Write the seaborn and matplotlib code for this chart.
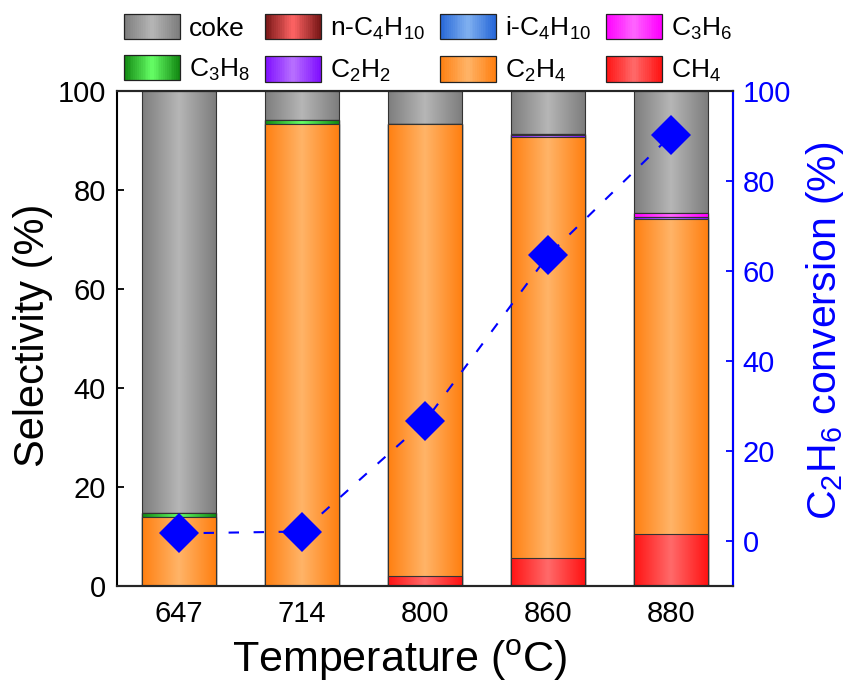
import numpy as np
import pandas as pd
import matplotlib
matplotlib.use("Agg")
import matplotlib.pyplot as plt
import matplotlib.colors as mcolors
from matplotlib.patches import Patch, Rectangle
from matplotlib.legend_handler import HandlerBase
import seaborn as sns

# data
temps = ['647', '714', '800', '860', '880']
ch4 = [0.0, 0.0, 2.1, 5.6, 10.5]
c2h4 = [13.9, 93.3, 91.2, 85.2, 63.6]
c2h2 = [0.0, 0.0, 0.0, 0.3, 0.5]
c3h8 = [0.9, 0.9, 0.0, 0.0, 0.0]
c3h6 = [0.0, 0.0, 0.0, 0.2, 0.7]
ic4h10 = [0.0, 0.0, 0.0, 0.0, 0.0]
nc4h10 = [0.0, 0.0, 0.0, 0.0, 0.0]
conversion = [1.7, 2.1, 26.6, 63.5, 90.2]

# stack from bottom to top; coke fills up to 100 %
layers = [
    ('CH4', r'CH$_4$', ch4, '#ff1414', '#ff6a6a'),
    ('C2H4', r'C$_2$H$_4$', c2h4, '#ff8012', '#ffb468'),
    ('C2H2', r'C$_2$H$_2$', c2h2, '#8010ff', '#b870ff'),
    ('C3H8', r'C$_3$H$_8$', c3h8, '#138a13', '#66ff66'),
    ('C3H6', r'C$_3$H$_6$', c3h6, '#ff00ff', '#ff66ff'),
    ('iC4H10', r'i-C$_4$H$_{10}$', ic4h10, '#2868d8', '#80b0f0'),
    ('nC4H10', r'n-C$_4$H$_{10}$', nc4h10, '#7a1818', '#ff6464'),
]
partial = np.sum([l[2] for l in layers], axis=0)
coke = list(np.round(100 - partial, 1))
layers.append(('coke', 'coke', coke, '#7e7e7e', '#b6b6b6'))


def gradient(edge, center, n=64):
    x = np.linspace(0, 1, n)
    w = 1 - np.abs(2 * x - 1)
    e = np.array(mcolors.to_rgb(edge))
    c = np.array(mcolors.to_rgb(center))
    return (e[None, :] * (1 - w[:, None]) + c[None, :] * w[:, None])


class GradientHandler(HandlerBase):
    def __init__(self, edge, center, n=30):
        super().__init__()
        self.cols = gradient(edge, center, n)

    def create_artists(self, legend, orig_handle, xdescent, ydescent,
                       width, height, fontsize, trans):
        n = len(self.cols)
        arts = []
        for i, col in enumerate(self.cols):
            arts.append(Rectangle((-xdescent + i * width / n, -ydescent),
                                  width / n * 1.3, height, facecolor=col,
                                  edgecolor='none', lw=0, antialiased=False,
                                  transform=trans))
        arts.append(Rectangle((-xdescent, -ydescent), width, height,
                              facecolor='none', edgecolor='#222222', lw=0.9,
                              transform=trans))
        return arts


sns.set_style('ticks')
plt.rcParams['font.family'] = ['Liberation Sans', 'DejaVu Sans']
plt.rcParams['mathtext.fontset'] = 'custom'
plt.rcParams['mathtext.rm'] = 'Liberation Sans'
plt.rcParams['mathtext.it'] = 'Liberation Sans:italic'
plt.rcParams['mathtext.default'] = 'regular'
for key in ['text.color', 'axes.labelcolor', 'xtick.color', 'ytick.color']:
    plt.rcParams[key] = 'black'

fig = plt.figure(figsize=(8.5, 6.89), dpi=100)
ax = fig.add_axes([117 / 850, 1 - 586 / 689, 616 / 850, 495 / 689])

# cumulative heights, drawn top layer first so lower layers overlay
cum = np.cumsum([l[2] for l in layers], axis=0)
order = list(range(len(layers)))[::-1]
for j, k in enumerate(order):
    name, label, vals, edge, center = layers[k]
    df = pd.DataFrame({'temp': temps, 'top': cum[k]})
    n0 = len(ax.patches)
    sns.barplot(data=df, x='temp', y='top', color=center, saturation=1,
                width=0.6, ax=ax, edgecolor='#333333', linewidth=0.8)
    grad = gradient(edge, center)[None, :, :]
    for p in ax.patches[n0:]:
        x0, w, h = p.get_x(), p.get_width(), p.get_height()
        z = 1 + 0.02 * j
        im = ax.imshow(grad, extent=[x0, x0 + w, 0, h], aspect='auto',
                       interpolation='bilinear', zorder=z)
        im.set_clip_path(p)
        p.set_facecolor('none')
        p.set_zorder(z + 0.01)

ax.set_xlim(-0.5, 4.5)
ax.set_ylim(0, 100)
ax.set_yticks(range(0, 101, 20))
ax.set_xlabel('Temperature ($^{o}$C)', fontsize=31)
ax.set_ylabel('Selectivity (%)', fontsize=30)
ax.xaxis.set_label_coords(0.459, -0.105)
ax.yaxis.set_label_coords(-0.104, 0.507)
ax.tick_params(axis='y', direction='in', length=5, width=1.3, labelsize=21, pad=8)
ax.tick_params(axis='x', length=0, labelsize=21, pad=10)
for s in ax.spines.values():
    s.set_linewidth(1.5)
    s.set_color('black')

ax2 = ax.twinx()
sns.lineplot(x=np.arange(len(temps)), y=conversion, ax=ax2,
             color='blue', marker='D', markersize=20,
             markeredgecolor='blue', markeredgewidth=0,
             linewidth=1.5, linestyle='--', legend=False)
ax2.lines[0].set_dashes([5, 7])
ax2.set_ylim(-10, 100)
ax2.set_yticks(range(0, 101, 20))
ax2.set_xlim(-0.5, 4.5)
ax2.set_ylabel(r'C$_2$H$_6$ conversion (%)', fontsize=29.5, color='blue')
ax2.yaxis.set_label_coords(1.115, 0.515)
ax2.tick_params(axis='y', direction='in', length=5, width=1.3, labelsize=21,
                pad=7, colors='blue')
for s in ax2.spines.values():
    s.set_linewidth(1.5)
ax2.spines['right'].set_color('blue')
ax2.spines['left'].set_visible(False)

# legend: column-major order for a 2x4 grid
lookup = {l[0]: l for l in layers}
leg_order = ['coke', 'C3H8', 'nC4H10', 'C2H2', 'iC4H10', 'C2H4', 'C3H6', 'CH4']
handles, labels, hmap = [], [], {}
for key in leg_order:
    name, label, vals, edge, center = lookup[key]
    h = Patch(facecolor=center)
    handles.append(h)
    labels.append(label)
    hmap[h] = GradientHandler(edge, center)
fig.legend(handles, labels, handler_map=hmap, ncol=4, loc='upper left',
           bbox_to_anchor=(124 / 850, 1 - 14 / 689), frameon=False,
           fontsize=19, handlelength=2.12, handleheight=1.1,
           handletextpad=0.34, columnspacing=0.57, labelspacing=0.55,
           borderpad=0, borderaxespad=0)

fig.savefig('out.png', dpi=100)
